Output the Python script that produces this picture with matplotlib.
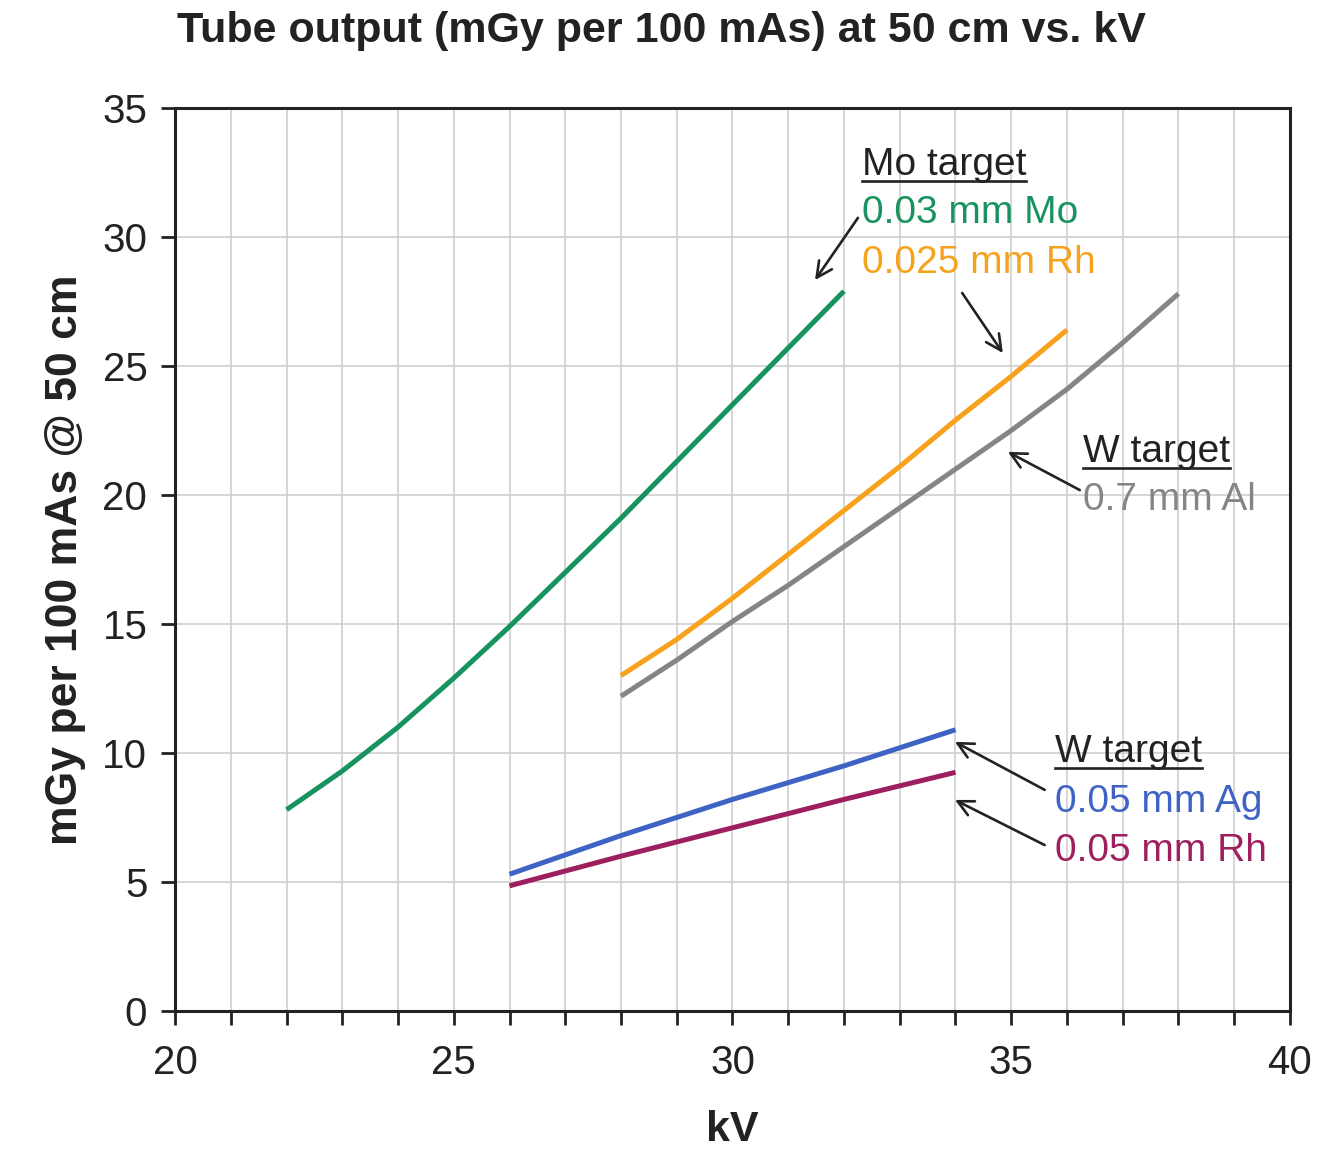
import matplotlib
matplotlib.use("Agg")
import matplotlib.pyplot as plt
from matplotlib.lines import Line2D
from matplotlib.ticker import MultipleLocator

plt.rcParams['font.family'] = ['Liberation Sans', 'DejaVu Sans']

# Data (kV vs mGy per 100 mAs @ 50 cm)
kv_mo_mo = [22, 23, 24, 25, 26, 27, 28, 29, 30, 31, 32]
out_mo_mo = [7.8, 9.3, 11.0, 12.9, 14.9, 17.0, 19.1, 21.3, 23.5, 25.7, 27.9]

kv_mo_rh = [28, 29, 30, 31, 32, 33, 34, 35, 36]
out_mo_rh = [13.0, 14.4, 16.0, 17.7, 19.4, 21.1, 22.9, 24.6, 26.4]

kv_w_al = [28, 29, 30, 31, 32, 33, 34, 35, 36, 37, 38]
out_w_al = [12.2, 13.6, 15.1, 16.5, 18.0, 19.5, 21.0, 22.5, 24.1, 25.9, 27.8]

kv_w_ag = [26, 28, 30, 32, 34]
out_w_ag = [5.3, 6.8, 8.2, 9.5, 10.9]

kv_w_rh = [26, 28, 30, 32, 34]
out_w_rh = [4.85, 6.0, 7.1, 8.2, 9.25]

c_green = '#17935f'
c_orange = '#f7a21c'
c_gray = '#858585'
c_blue = '#3f63c4'
c_purple = '#9e1f5e'

fig = plt.figure(figsize=(13.21, 11.5), dpi=100)
ax = fig.add_axes([0.1325, 0.1209, 0.844, 0.7852])

lw = 3.6
ax.plot(kv_mo_mo, out_mo_mo, color=c_green, lw=lw, solid_capstyle='butt')
ax.plot(kv_mo_rh, out_mo_rh, color=c_orange, lw=lw, solid_capstyle='butt')
ax.plot(kv_w_al, out_w_al, color=c_gray, lw=lw, solid_capstyle='butt')
ax.plot(kv_w_ag, out_w_ag, color=c_blue, lw=lw, solid_capstyle='butt')
ax.plot(kv_w_rh, out_w_rh, color=c_purple, lw=lw, solid_capstyle='butt')

ax.set_xlim(20, 40)
ax.set_ylim(0, 35)
ax.xaxis.set_major_locator(MultipleLocator(5))
ax.xaxis.set_minor_locator(MultipleLocator(1))
ax.yaxis.set_major_locator(MultipleLocator(5))
ax.grid(True, which='both', axis='x', color='#cfcfcf', lw=1.2)
ax.grid(True, which='major', axis='y', color='#cfcfcf', lw=1.2)
ax.set_axisbelow(True)

for s in ax.spines.values():
    s.set_linewidth(2.2)
    s.set_color('#222222')

ax.tick_params(axis='both', which='both', direction='out', length=10, width=2, color='#222222',
               labelsize=29, labelcolor='#222222')
ax.tick_params(axis='x', which='both', pad=14)
ax.tick_params(axis='y', pad=10)

ax.set_xlabel('kV', fontsize=31, fontweight='bold', labelpad=20, color='#222222')
ax.set_ylabel('mGy per 100 mAs @ 50 cm', fontsize=32, fontweight='bold', labelpad=12, color='#222222')
fig.text(0.501, 0.973, 'Tube output (mGy per 100 mAs) at 50 cm vs. kV', ha='center', va='center',
         fontsize=31, fontweight='bold', color='#222222')

fs = 28
labels = [
    (32.32, 32.8, 'Mo target', '#222222', True),
    (32.32, 30.93, '0.03 mm Mo', c_green, False),
    (32.32, 29.0, '0.025 mm Rh', c_orange, False),
    (36.29, 21.67, 'W target', '#222222', True),
    (36.29, 19.8, '0.7 mm Al', c_gray, False),
    (35.78, 10.04, 'W target', '#222222', True),
    (35.78, 8.1, '0.05 mm Ag', c_blue, False),
    (35.78, 6.2, '0.05 mm Rh', c_purple, False),
]
texts = []
for x, y, t, c, ul in labels:
    tx = ax.text(x, y, t, color=c, fontsize=fs, ha='left', va='center')
    texts.append((tx, ul))

arrows = [
    ((32.25, 30.74), (31.48, 28.33)),
    ((34.12, 27.83), (34.85, 25.5)),
    ((36.23, 20.19), (34.94, 21.67)),
    ((35.6, 8.57), (33.99, 10.43)),
    ((35.6, 6.43), (33.99, 8.18)),
]
for tail, head in arrows:
    ax.annotate('', xy=head, xytext=tail,
                arrowprops=dict(arrowstyle='->', color='#222222', lw=1.9, mutation_scale=28,
                                shrinkA=0, shrinkB=0))

fig.canvas.draw()
r = fig.canvas.get_renderer()
for tx, ul in texts:
    if ul:
        bb = tx.get_window_extent(renderer=r)
        yline = bb.y0 + 2
        fig.add_artist(Line2D([bb.x0 / fig.bbox.width, bb.x1 / fig.bbox.width],
                              [yline / fig.bbox.height, yline / fig.bbox.height],
                              transform=fig.transFigure, color='#222222', lw=1.9))

fig.savefig('out.png', dpi=100, facecolor='white')
